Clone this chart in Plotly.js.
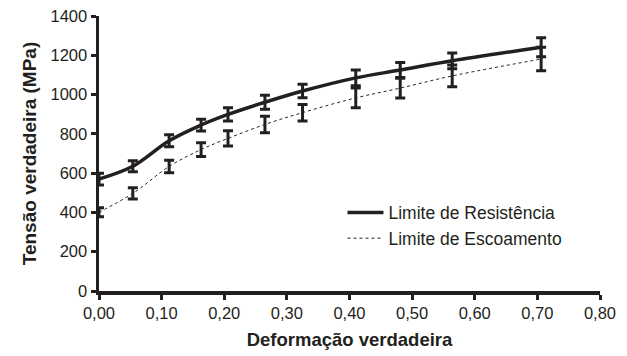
<!DOCTYPE html>
<html>
<head>
<meta charset="utf-8">
<script src="https://cdn.plot.ly/plotly-3.0.1.min.js"></script>
<style>html,body{margin:0;padding:0;background:#fff;}#chart{width:627px;height:356px;}</style>
</head>
<body>
<div id="chart"></div>
<script>
const deformacao = [0, 0.054, 0.112, 0.163, 0.206, 0.265, 0.325, 0.410, 0.481, 0.564, 0.706];
const resistencia = [570, 635, 765, 845, 899, 961, 1018, 1085, 1125, 1172, 1241];
const resistenciaErr = [30, 28, 30, 30, 34, 36, 34, 40, 38, 40, 48];
const escoamento = [401, 497, 634, 720, 777, 848, 908, 983, 1033, 1095, 1181];
const escoamentoErr = [23, 29, 32, 35, 39, 42, 42, 50, 50, 55, 60];
const nomes = ['Limite de Resistência', 'Limite de Escoamento'];

const ink = '#231f20';
const fam = 'Liberation Sans, Arial, sans-serif';
const errStyle = (arr) => ({type: 'data', array: arr, visible: true, color: ink, thickness: 3, width: 5});

const traces = [
  {x: deformacao, y: escoamento, mode: 'markers', marker: {size: 0.1, color: ink, opacity: 0},
   error_y: errStyle(escoamentoErr), showlegend: false, hoverinfo: 'skip'},
  {x: deformacao, y: resistencia, mode: 'markers', marker: {size: 0.1, color: ink, opacity: 0},
   error_y: errStyle(resistenciaErr), showlegend: false, hoverinfo: 'skip'},
  {x: deformacao, y: resistencia, mode: 'lines', name: nomes[0],
   line: {color: ink, width: 3.5, shape: 'spline', smoothing: 1}},
  {x: deformacao, y: escoamento, mode: 'lines', name: nomes[1],
   line: {color: ink, width: 1, dash: 'dot', shape: 'spline', smoothing: 1}}
];

const axisBase = {
  showline: true, linecolor: ink, linewidth: 3.5, mirror: false,
  showgrid: false, zeroline: false,
  ticks: 'outside', ticklen: 5, tickwidth: 3, tickcolor: ink,
  tickfont: {family: fam, size: 16.5, color: ink}
};

const layout = {
  width: 627, height: 356,
  margin: {l: 99, r: 27, t: 16, b: 65},
  paper_bgcolor: '#fff', plot_bgcolor: '#fff',
  separators: ',.',
  xaxis: Object.assign({}, axisBase, {
    range: [0, 0.8], dtick: 0.1, tick0: 0, tickformat: '.2f',
    title: {text: 'Deformação verdadeira', standoff: 13,
      font: {family: fam, size: 18.5, color: ink, weight: 'bold'}}
  }),
  yaxis: Object.assign({}, axisBase, {
    range: [0, 1400], dtick: 200, tick0: 0,
    title: {text: 'Tensão verdadeira (MPa)', standoff: 10,
      font: {family: fam, size: 19, color: ink, weight: 'bold'}}
  }),
  legend: {
    x: 0.486, y: 0.238, xanchor: 'left', yanchor: 'middle',
    bgcolor: 'rgba(0,0,0,0)', borderwidth: 0,
    font: {family: fam, size: 17.5, color: ink},
    itemwidth: 36, tracegroupgap: 0
  },
  showlegend: true
};

Plotly.newPlot('chart', traces, layout, {displayModeBar: false, staticPlot: true});
</script>
</body>
</html>
